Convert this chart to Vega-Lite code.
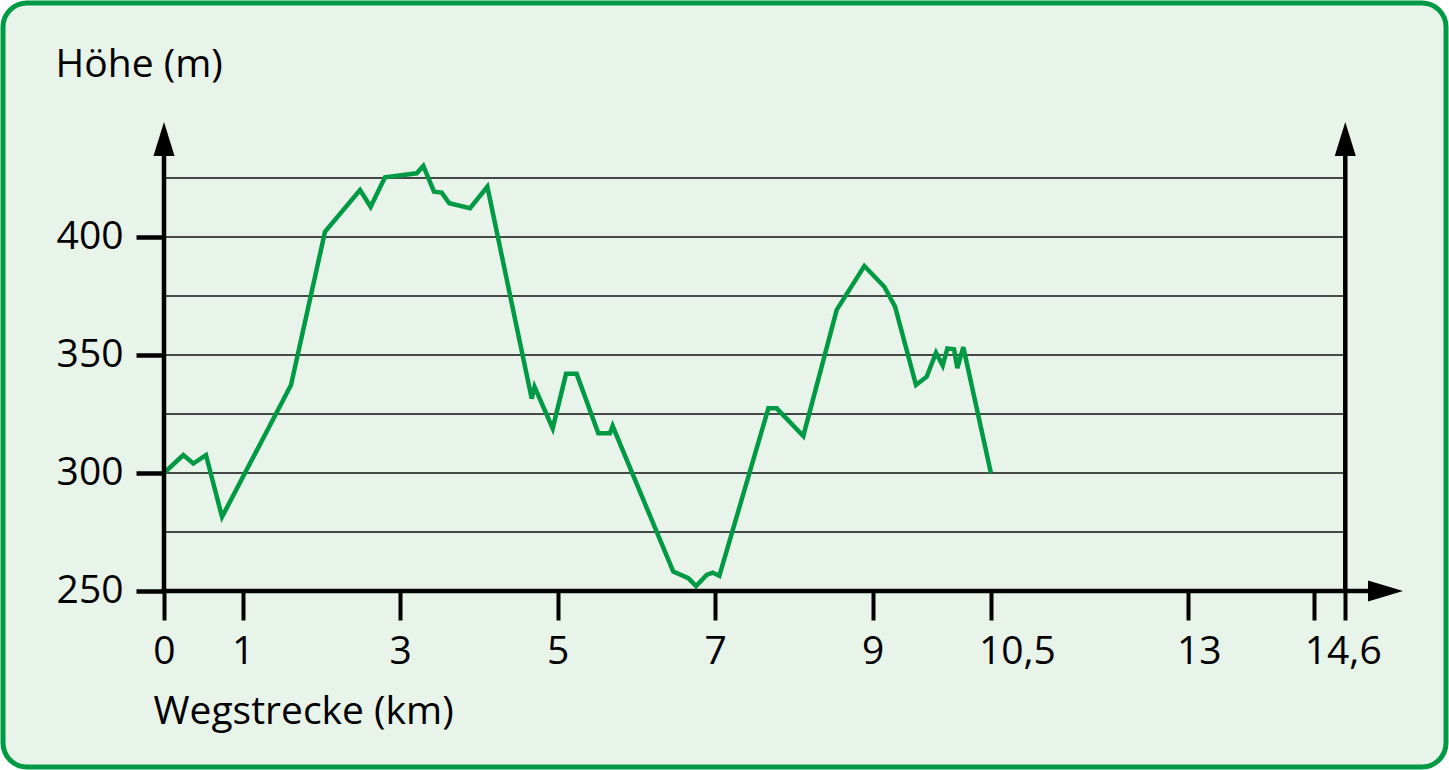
{
  "$schema": "https://vega.github.io/schema/vega-lite/v6.json",
  "width": 1443,
  "height": 764,
  "padding": 3,
  "autosize": {"type": "none"},
  "background": "white",
  "config": {
    "view": {"fill": "#E8F3E9", "stroke": "#009A44", "strokeWidth": 5, "cornerRadius": 24},
    "font": "Open Sans"
  },
  "data": {"values": [{}]},
  "datasets": {
    "profil": [
      {"km": 0, "hoehe": 300},
      {"km": 0.245, "hoehe": 307.6},
      {"km": 0.372, "hoehe": 304},
      {"km": 0.533, "hoehe": 307.6},
      {"km": 0.737, "hoehe": 281.4},
      {"km": 1.613, "hoehe": 337.3},
      {"km": 2.044, "hoehe": 402.2},
      {"km": 2.489, "hoehe": 419.9},
      {"km": 2.624, "hoehe": 412.8},
      {"km": 2.806, "hoehe": 425.3},
      {"km": 3.209, "hoehe": 427},
      {"km": 3.293, "hoehe": 430.1},
      {"km": 3.429, "hoehe": 419.2},
      {"km": 3.526, "hoehe": 418.8},
      {"km": 3.623, "hoehe": 414.3},
      {"km": 3.886, "hoehe": 412.2},
      {"km": 4.106, "hoehe": 421.3},
      {"km": 4.669, "hoehe": 331.5},
      {"km": 4.705, "hoehe": 336.5},
      {"km": 4.936, "hoehe": 318.9},
      {"km": 5.105, "hoehe": 342},
      {"km": 5.24, "hoehe": 342},
      {"km": 5.515, "hoehe": 316.8},
      {"km": 5.663, "hoehe": 316.8},
      {"km": 5.697, "hoehe": 319.9},
      {"km": 6.467, "hoehe": 258.2},
      {"km": 6.658, "hoehe": 255.4},
      {"km": 6.756, "hoehe": 252.1},
      {"km": 6.891, "hoehe": 256.8},
      {"km": 6.967, "hoehe": 257.8},
      {"km": 7.052, "hoehe": 256.4},
      {"km": 7.674, "hoehe": 327.4},
      {"km": 7.78, "hoehe": 327.4},
      {"km": 8.118, "hoehe": 315.7},
      {"km": 8.542, "hoehe": 369.1},
      {"km": 8.893, "hoehe": 387.7},
      {"km": 9.147, "hoehe": 378.9},
      {"km": 9.283, "hoehe": 370.5},
      {"km": 9.549, "hoehe": 337.3},
      {"km": 9.685, "hoehe": 340.8},
      {"km": 9.803, "hoehe": 351},
      {"km": 9.888, "hoehe": 345.5},
      {"km": 9.947, "hoehe": 352.8},
      {"km": 10.032, "hoehe": 352.4},
      {"km": 10.074, "hoehe": 344.4},
      {"km": 10.15, "hoehe": 353.3},
      {"km": 10.5, "hoehe": 300}
    ],
    "gitter": [
      {"hoehe": 275}, {"hoehe": 300}, {"hoehe": 325}, {"hoehe": 350},
      {"hoehe": 375}, {"hoehe": 400}, {"hoehe": 425}
    ]
  },
  "layer": [
    {
      "data": {"name": "gitter"},
      "mark": {"type": "rule", "color": "#111111", "strokeWidth": 1.5},
      "encoding": {
        "x": {"datum": 0, "type": "quantitative", "scale": {"domain": [-2.0444, 16.279], "nice": false, "zero": false}},
        "x2": {"datum": 15},
        "y": {"field": "hoehe", "type": "quantitative", "scale": {"domain": [175.42, 499.15], "nice": false, "zero": false}}
      }
    },
    {
      "data": {"name": "profil"},
      "mark": {"type": "line", "color": "#009A44", "strokeWidth": 4.5, "strokeJoin": "miter", "strokeCap": "butt"},
      "encoding": {
        "x": {
          "field": "km", "type": "quantitative",
          "scale": {"domain": [-2.0444, 16.279], "nice": false, "zero": false},
          "axis": {
            "orient": "bottom", "offset": -176,
            "values": [0, 1, 3, 5, 7, 9, 10.5, 13, 14.6, 15],
            "domain": false, "grid": false,
            "ticks": true, "tickSize": 29, "tickWidth": 4, "tickColor": "black",
            "labelFont": "Open Sans", "labelFontSize": 39, "labelColor": "black",
            "labelPadding": 12, "labelOverlap": false, "labelFlush": false, "labelBound": false,
            "labelExpr": "datum.value == 15 ? '' : replace(format(datum.value, '.1~f'), '.', ',')",
            "labelOffset": {"condition": [
              {"test": "datum.value == 10.5", "value": 26},
              {"test": "datum.value == 13", "value": 11},
              {"test": "datum.value == 14.6", "value": 29}
            ], "value": 0},
            "title": "Wegstrecke (km)",
            "titleFont": "Open Sans", "titleFontSize": 39, "titleFontWeight": "normal", "titleColor": "black",
            "titleAngle": 0, "titleAlign": "left", "titleBaseline": "alphabetic",
            "titleX": 150, "titleY": 132
          }
        },
        "y": {
          "field": "hoehe", "type": "quantitative",
          "scale": {"domain": [175.42, 499.15], "nice": false, "zero": false},
          "axis": {
            "orient": "left", "offset": -161,
            "values": [250, 300, 350, 400],
            "domain": false, "grid": false,
            "ticks": true, "tickSize": 28, "tickWidth": 4.5, "tickColor": "black",
            "labelFont": "Open Sans", "labelFontSize": 39, "labelColor": "black",
            "labelPadding": 13, "labelOverlap": false, "labelFlush": false, "labelBound": false,
            "format": "d",
            "title": "Höhe (m)",
            "titleFont": "Open Sans", "titleFontSize": 39, "titleFontWeight": "normal", "titleColor": "black",
            "titleAngle": 0, "titleAlign": "left", "titleBaseline": "alphabetic",
            "titleX": -109, "titleY": 73
          }
        }
      }
    },
    {
      "mark": {"type": "rule", "color": "black", "strokeWidth": 4.5, "strokeCap": "butt"},
      "encoding": {
        "x": {"datum": 0, "type": "quantitative", "scale": {"domain": [-2.0444, 16.279], "nice": false, "zero": false}},
        "y": {"datum": 250, "type": "quantitative", "scale": {"domain": [175.42, 499.15], "nice": false, "zero": false}},
        "y2": {"datum": 436}
      }
    },
    {
      "mark": {"type": "rule", "color": "black", "strokeWidth": 4.5, "strokeCap": "butt"},
      "encoding": {
        "x": {"datum": 15, "type": "quantitative", "scale": {"domain": [-2.0444, 16.279], "nice": false, "zero": false}},
        "y": {"datum": 250, "type": "quantitative", "scale": {"domain": [175.42, 499.15], "nice": false, "zero": false}},
        "y2": {"datum": 436}
      }
    },
    {
      "mark": {"type": "rule", "color": "black", "strokeWidth": 4.5, "strokeCap": "butt"},
      "encoding": {
        "x": {"datum": -0.03, "type": "quantitative", "scale": {"domain": [-2.0444, 16.279], "nice": false, "zero": false}},
        "x2": {"datum": 15.35},
        "y": {"datum": 250, "type": "quantitative", "scale": {"domain": [175.42, 499.15], "nice": false, "zero": false}}
      }
    },
    {
      "mark": {"type": "point", "shape": "M0,-1L0.62,1L-0.62,1Z", "size": 1156, "filled": true, "color": "black", "opacity": 1, "strokeWidth": 0},
      "encoding": {
        "x": {"datum": 0, "type": "quantitative", "scale": {"domain": [-2.0444, 16.279], "nice": false, "zero": false}},
        "y": {"datum": 441.5, "type": "quantitative", "scale": {"domain": [175.42, 499.15], "nice": false, "zero": false}}
      }
    },
    {
      "mark": {"type": "point", "shape": "M0,-1L0.62,1L-0.62,1Z", "size": 1156, "filled": true, "color": "black", "opacity": 1, "strokeWidth": 0},
      "encoding": {
        "x": {"datum": 15, "type": "quantitative", "scale": {"domain": [-2.0444, 16.279], "nice": false, "zero": false}},
        "y": {"datum": 441.5, "type": "quantitative", "scale": {"domain": [175.42, 499.15], "nice": false, "zero": false}}
      }
    },
    {
      "mark": {"type": "point", "shape": "M1,0L-1,-0.6L-1,0.6Z", "size": 1225, "filled": true, "color": "black", "opacity": 1, "strokeWidth": 0},
      "encoding": {
        "x": {"datum": 15.511, "type": "quantitative", "scale": {"domain": [-2.0444, 16.279], "nice": false, "zero": false}},
        "y": {"datum": 250, "type": "quantitative", "scale": {"domain": [175.42, 499.15], "nice": false, "zero": false}}
      }
    }
  ]
}
